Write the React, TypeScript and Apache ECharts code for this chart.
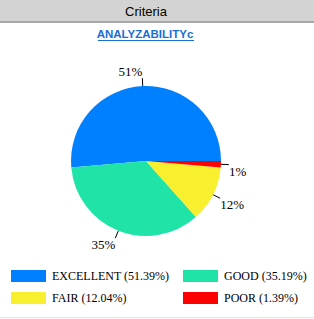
import React, { useEffect, useRef } from "react";
import * as echarts from "echarts";

const categories = ["EXCELLENT", "GOOD", "FAIR", "POOR"];
const counts = [111, 76, 26, 3];
const colors = ["#0080ff", "#20e3a8", "#f8ef2e", "#ff0000"];
const headerText = "Criteria";
const titleText = "ANALYZABILITYc";

export default function App() {
  const ref = useRef<HTMLDivElement>(null);
  useEffect(() => {
    if (!ref.current) return;
    const chart = echarts.init(ref.current, null, { renderer: "svg" });
    const total = counts.reduce((a, b) => a + b, 0);
    const pct: Record<string, string> = {};
    categories.forEach((c, i) => {
      pct[c] = ((counts[i] / total) * 100).toFixed(2) + "%";
    });
    const centerY = 161;
    const legendCommon = {
      orient: "vertical" as const,
      top: 265,
      itemWidth: 35,
      itemHeight: 12,
      itemGap: 10,
      icon: "rect",
      selectedMode: false,
      formatter: (n: string) => `${n} (${pct[n]})`,
      textStyle: {
        fontFamily: "Liberation Serif, serif",
        fontSize: 12,
        color: "#000",
        lineHeight: 12,
        padding: [0, 0, 0, 1],
      },
    };
    chart.setOption({
      animation: false,
      color: colors,
      graphic: [
        { type: "rect", shape: { x: 0, y: 0, width: 314, height: 21 }, style: { fill: "#d3d3d3" } },
        { type: "rect", shape: { x: 0, y: 21, width: 314, height: 2 }, style: { fill: "#a8a8a8" } },
        {
          type: "text",
          x: 146,
          y: 11,
          style: {
            text: headerText,
            fill: "#000",
            font: "13px 'Liberation Sans', Arial, sans-serif",
            textAlign: "center",
            textVerticalAlign: "middle",
          },
        },
        {
          type: "text",
          x: 145,
          y: 34,
          style: {
            text: titleText,
            fill: "#1a6ed8",
            font: "bold 11.5px 'Liberation Sans', Arial, sans-serif",
            textAlign: "center",
            textVerticalAlign: "middle",
          },
        },
        { type: "rect", shape: { x: 98, y: 40, width: 96, height: 1 }, style: { fill: "#1a6ed8" } },
        { type: "rect", shape: { x: 0, y: 317, width: 314, height: 1 }, style: { fill: "#e6e6e6" } },
      ],
      legend: [
        { ...legendCommon, left: 6, data: [categories[0], categories[2]] },
        { ...legendCommon, left: 178, data: [categories[1], categories[3]] },
      ],
      series: [
        {
          type: "pie",
          center: [146, centerY],
          radius: 75,
          startAngle: 0,
          clockwise: false,
          avoidLabelOverlap: false,
          data: categories.map((c, i) => ({ name: c, value: counts[i] })),
          label: {
            show: true,
            formatter: (p: any) => Math.round(p.percent) + "%",
            fontFamily: "Liberation Serif, serif",
            fontSize: 13,
            color: "#000",
            distanceToLabelLine: 0,
          },
          labelLine: {
            show: true,
            length: 8,
            length2: 0,
            lineStyle: { color: "#000", width: 1 },
          },
          labelLayout: (params: any) => {
            const pts = params.labelLinePoints;
            if (!pts) return {};
            const end = pts[pts.length - 1];
            const h = params.labelRect.height;
            return {
              dy: end[1] < centerY ? -h / 2 : h / 2,
              labelLinePoints: pts,
            };
          },
          itemStyle: { borderWidth: 0 },
          emphasis: { disabled: true },
        },
      ],
    });
    return () => chart.dispose();
  }, []);
  return (
    <div
      ref={ref}
      style={{ position: "absolute", left: 0, top: 0, width: 314, height: 319, background: "#fff" }}
    />
  );
}
